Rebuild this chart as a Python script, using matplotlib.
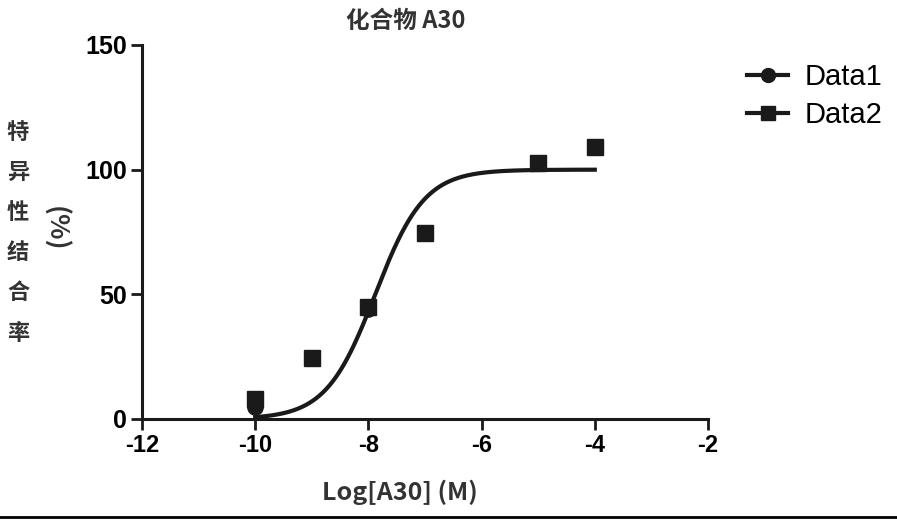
import numpy as np
import matplotlib
matplotlib.use("Agg")
import matplotlib.pyplot as plt
from matplotlib.lines import Line2D

# data
log_conc_d2 = [-10, -9, -8, -7, -5, -4]
binding_d2 = [8, 24.5, 45, 74.5, 102.5, 109]
log_conc_d1 = [-10, -8]
binding_d1 = [5, 44]

# fitted curve parameters (sigmoidal dose-response)
fit_bottom = 0
fit_top = 100
fit_logec50 = -7.88
fit_hill = 1.0
fit_range = (-10, -4)

title_text = "化合物 A30"
xlabel_text = "Log[A30] (M)"
ylabel_chars = ["特", "异", "性", "结", "合", "率"]
xticks = [-12, -10, -8, -6, -4, -2]
yticks = [0, 50, 100, 150]

cjk = ["Noto Sans CJK SC", "DejaVu Sans"]
num_font = ["Liberation Sans", "DejaVu Sans"]

fig = plt.figure(figsize=(8.97, 5.21), dpi=100)
ax = fig.add_axes([142 / 897, 102 / 521, 566 / 897, 374 / 521])

xs = np.linspace(fit_range[0], fit_range[1], 300)
ys = fit_bottom + (fit_top - fit_bottom) / (1 + 10 ** ((fit_logec50 - xs) * fit_hill))
ax.plot(xs, ys, color="#1a1a1a", lw=3, zorder=2)

ax.plot(log_conc_d1, binding_d1, "o", color="#1a1a1a", ms=11, zorder=3)
ax.plot(log_conc_d2, binding_d2, "s", color="#1a1a1a", ms=11, zorder=4)

ax.set_xlim(-12, -2)
ax.set_ylim(0, 150)
ax.set_xticks(xticks)
ax.set_yticks(yticks)
ax.set_xticklabels([str(t) for t in xticks], family=num_font, fontweight="bold", fontsize=17)
ax.set_yticklabels([str(t) for t in yticks], family=num_font, fontweight="bold", fontsize=18)

for side in ["top", "right"]:
    ax.spines[side].set_visible(False)
for side in ["left", "bottom"]:
    ax.spines[side].set_linewidth(2.2)
    ax.spines[side].set_color("#1a1a1a")
ax.tick_params(width=2, length=8, pad=3, color="#1a1a1a")

# title, axis labels
fig.text(406 / 897, 1 - 21 / 521, title_text, family=cjk, fontweight="bold",
         fontsize=17, color="#333333", ha="center", va="center")
fig.text(400 / 897, 1 - 492 / 521, xlabel_text, family=cjk, fontweight="bold",
         fontsize=18, color="#333333", ha="center", va="center")
for i, ch in enumerate(ylabel_chars):
    fig.text(18 / 897, 1 - (132 + 40.2 * i) / 521, ch, family=cjk, fontweight="bold",
             fontsize=16, color="#333333", ha="center", va="center")
fig.text(55 / 897, 1 - 229 / 521, "(%)", family=cjk, fontweight="bold",
         fontsize=19, color="#333333", ha="center", va="center", rotation=-90)

# legend
handles = [
    Line2D([], [], color="#1a1a1a", lw=3, marker="o", ms=10),
    Line2D([], [], color="#1a1a1a", lw=3, marker="s", ms=10),
]
fig.legend(handles, ["Data1", "Data2"], loc="upper left",
           bbox_to_anchor=(721 / 897, 1 - 37 / 521), frameon=False,
           prop={"family": num_font, "size": 21}, handlelength=1.4,
           handletextpad=0.55, labelspacing=0.33)

# bottom border line
fig.add_artist(Line2D([0, 1], [4 / 521, 4 / 521], color="black", lw=2,
                      transform=fig.transFigure))

fig.savefig("out.png", dpi=100)
